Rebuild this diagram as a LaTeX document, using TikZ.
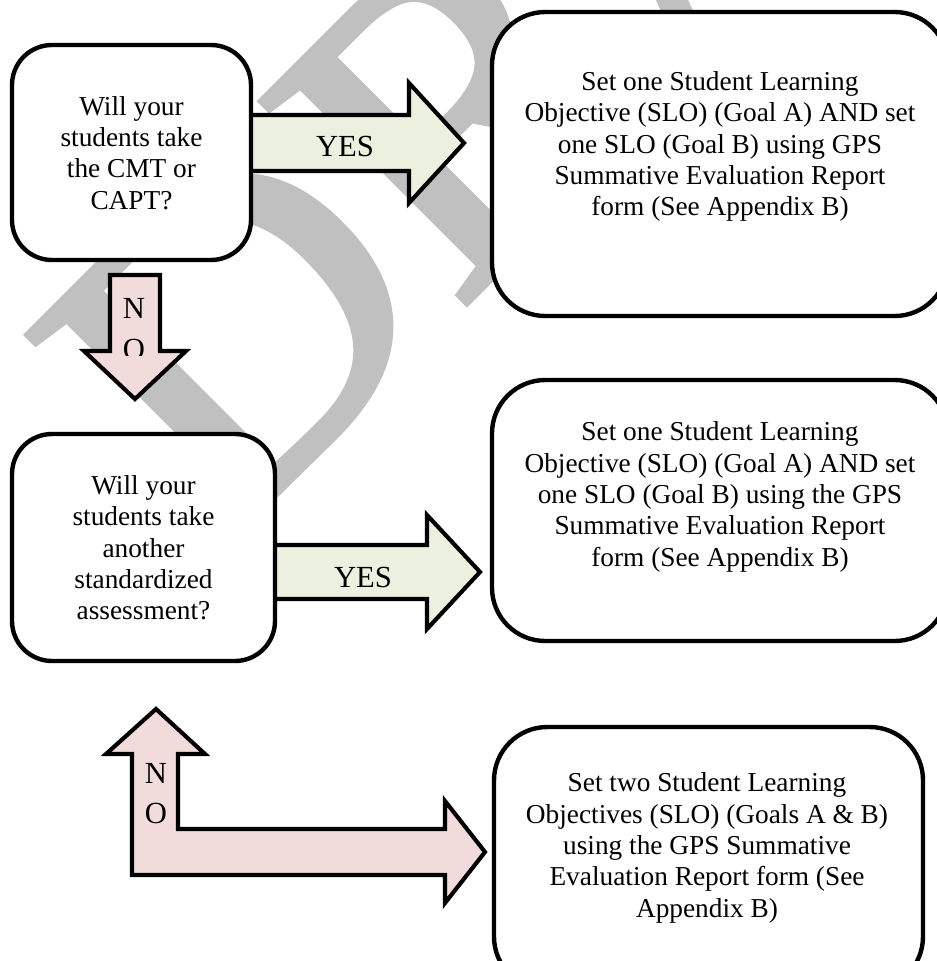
\documentclass[tikz,border=0pt]{standalone}
\usepackage{fontspec}
\setmainfont{Liberation Serif}
\newfontfamily\wmfont[FakeBold=1.5]{Liberation Serif}
\definecolor{yesfill}{HTML}{EBF1DE}
\definecolor{nofill}{HTML}{F2DCDB}
\definecolor{wmgray}{HTML}{C0C0C0}
\begin{document}
\begin{tikzpicture}[x=0.75pt,y=-0.75pt,line join=miter,
  lbox/.style={draw=black,line width=3.3pt,fill=white,rounded corners=30pt,inner sep=0pt},
  rbox/.style={draw=black,line width=3.3pt,fill=white,rounded corners=40pt,inner sep=0pt},
  yesarrow/.style={draw=black,line width=3.1pt,fill=yesfill},
  noarrow/.style={draw=black,line width=3.1pt,fill=nofill},
  boxtext/.style={align=center,inner sep=0pt,font=\fontsize{20.5}{23.5}\selectfont},
  lbl/.style={inner sep=0pt,font=\fontsize{23}{25}\selectfont},
  wmark/.style={anchor=base west,inner sep=0pt,rotate=45,xscale=1.04,text=wmgray,
      font=\wmfont\fontsize{330}{330}\selectfont}]
\useasboundingbox (0,0) rectangle (937,961);
% watermark
\node[wmark] (wm) at (222,548) {DRAFT};
% block arrows
\draw[yesarrow] (250,115) -- (409,115) -- (409,83) -- (464,143) -- (409,203) -- (409,171) -- (250,171) -- cycle;
\draw[noarrow] (110,275) -- (160,275) -- (160,351) -- (186,351) -- (135,399) -- (84,351) -- (110,351) -- cycle;
\draw[yesarrow] (274,545) -- (427,545) -- (427,515) -- (480,572) -- (427,629) -- (427,599) -- (274,599) -- cycle;
\draw[noarrow] (132,875) -- (132,754) -- (106,754) -- (156,709) -- (205,754) -- (178,754) -- (178,829)
   -- (445,829) -- (445,801) -- (485,852) -- (445,903) -- (445,875) -- cycle;
% boxes
\node[lbox,minimum width=179.25pt,minimum height=161.25pt] (b1) at (131.5,152.5) {};
\node[lbox,minimum width=197.25pt,minimum height=170.25pt] (b2) at (143.5,547.5) {};
\node[rbox,minimum width=342pt,minimum height=228pt] (r1) at (720,164) {};
\node[rbox,minimum width=342pt,minimum height=195.75pt] (r2) at (720,510.5) {};
\node[rbox,minimum width=321.75pt,minimum height=197.25pt] (r3) at (708.5,858.5) {};
% texts
\node[boxtext] (t1) at (131.5,153) {Will your\\students take\\the CMT or\\CAPT?};
\node[boxtext] (t2) at (143.5,548) {Will your\\students take\\another\\standardized\\assessment?};
\node[boxtext] (t3) at (720,146.5) {Set one Student Learning\\Objective (SLO) (Goal A) AND set\\one SLO (Goal B) using GPS\\Summative Evaluation Report\\form (See Appendix B)};
\node[boxtext] (t4) at (720,497) {Set one Student Learning\\Objective (SLO) (Goal A) AND set\\one SLO (Goal B) using the GPS\\Summative Evaluation Report\\form (See Appendix B)};
\node[boxtext] (t5) at (707,848) {Set two Student Learning\\Objectives (SLO) (Goals A \& B)\\using the GPS Summative\\Evaluation Report form (See\\Appendix B)};
% arrow labels
\node[lbl] (y1) at (345,146) {YES};
\node[lbl] (y2) at (363,577) {YES};
\node[lbl] (n1) at (134,308) {N};
\begin{scope}
  \clip (110,275) rectangle (160,355);
  \node[lbl] (o1) at (134,349) {O};
\end{scope}
\node[lbl] (n2) at (156,773) {N};
\node[lbl] (o2) at (156,813) {O};
\end{tikzpicture}
\end{document}
